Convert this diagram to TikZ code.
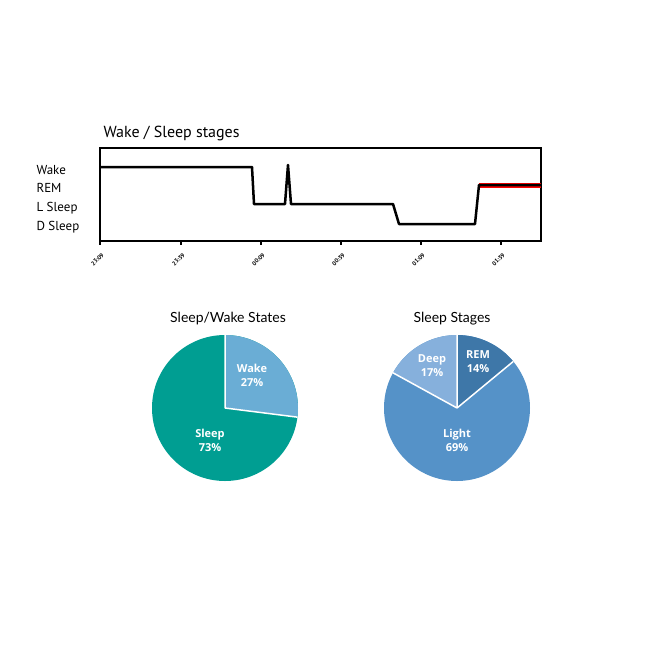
\documentclass[tikz,border=0pt]{standalone}
\usepackage{fontspec}
\setmainfont{PT Sans}
\newfontfamily\labfont{Open Sans}
\newfontfamily\ttlfont{Lato}
\definecolor{teal1}{HTML}{009E92}
\definecolor{wake1}{HTML}{6AADD5}
\definecolor{rem1}{HTML}{3E77A8}
\definecolor{light1}{HTML}{5592C8}
\definecolor{deep1}{HTML}{86B0DC}
\begin{document}
\begin{tikzpicture}[x=1pt,y=-1pt,
  ylab/.style={anchor=west,font=\fontsize{13}{13}\selectfont},
  tick/.style={font=\fontsize{6}{6}\selectfont\bfseries,rotate=45,anchor=east,inner sep=0},
  plab/.style={text=white,font=\labfont\bfseries\fontsize{11}{14}\selectfont,align=center},
  ptitle/.style={font=\ttlfont\fontsize{14}{14}\selectfont}]
\useasboundingbox (0,0) rectangle (646,646);
\node[anchor=west,font=\fontsize{16}{16}\selectfont] (title) at (100,133) {Wake / Sleep stages};
\draw[line width=1.5pt] (100,148) rectangle (541,241);
\node[ylab] (lw) at (33,170) {Wake};
\node[ylab] (lr) at (33,188) {REM};
\node[ylab] (ll) at (33,208) {L Sleep};
\node[ylab] (ld) at (33,227) {D Sleep};
\foreach \x/\t in {100/23:09,181/23:39,261/00:09,341/00:39,421/01:09,501/01:39}{
  \draw[line width=1.2pt] (\x,241) -- (\x,245);
  \node[tick] at (\x+3,254) {\t};
}
\draw[red,line width=5pt] (479,185) -- (541,185);
\draw[line width=2.5pt,line join=round] (100,167) -- (252,167) -- (254,204) -- (285,204) -- (288,165) -- (291,204) -- (393,204) -- (399,224) -- (475,224) -- (479,185) -- (541,185);
% pie 1
\node[ptitle] (t1) at (228,319) {Sleep/Wake States};
\fill[teal1] (225,408) circle[radius=73];
\fill[wake1] (225,408) -- ++(-90:73) arc[start angle=-90,end angle=7.2,radius=73] -- cycle;
\draw[white,line width=1.5pt] (225,408) -- ++(-90:73) (225,408) -- ++(7.2:73);
\node[plab] (w) at (252,375) {Wake\\27\%};
\node[plab] (s) at (210,440) {Sleep\\73\%};
% pie 2
\node[ptitle] (t2) at (452,319) {Sleep Stages};
\fill[light1] (457,408) circle[radius=73];
\fill[rem1] (457,408) -- ++(-90:73) arc[start angle=-90,end angle=-39.6,radius=73] -- cycle;
\fill[deep1] (457,408) -- ++(-151.2:73) arc[start angle=-151.2,end angle=-90,radius=73] -- cycle;
\draw[white,line width=1.5pt] (457,408) -- ++(-90:73) (457,408) -- ++(-39.6:73) (457,408) -- ++(-151.2:73);
\node[plab] (dp) at (432,366) {Deep\\17\%};
\node[plab] (rm) at (478,362) {REM\\14\%};
\node[plab] (lt) at (457,440) {Light\\69\%};
\end{tikzpicture}
\end{document}
